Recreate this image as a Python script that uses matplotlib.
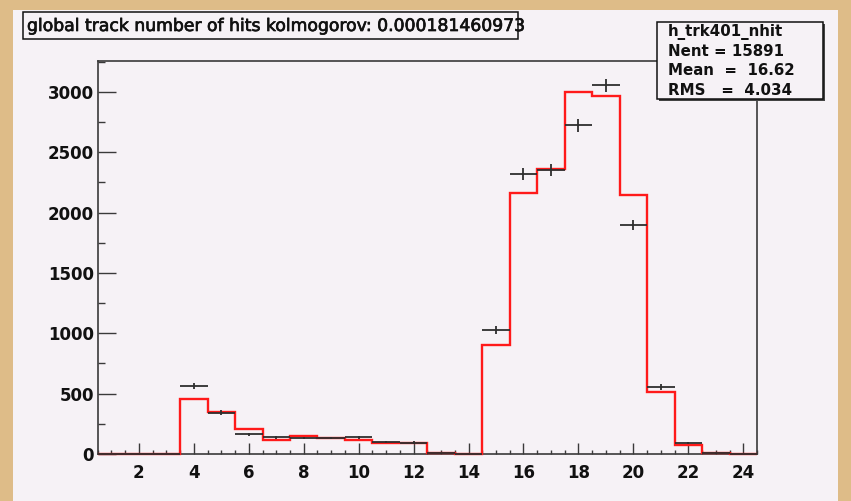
import numpy as np
import matplotlib
matplotlib.use("Agg")
import matplotlib.pyplot as plt
import matplotlib.patheffects as pe
from matplotlib.patches import Rectangle
from matplotlib.ticker import MultipleLocator

# ---- data (bins 1..24, width 1) ----
bin_centers = list(range(1, 25))
reference_counts = [0, 0, 0, 455, 345, 210, 113, 147, 135, 113, 95, 95,
                    12, 0, 905, 2160, 2365, 3000, 2962, 2145, 512, 76, 10, 0]
data_counts = [0, 0, 0, 563, 343, 163, 137, 133, 133, 138, 100, 95,
               5, 0, 1027, 2322, 2355, 2723, 3055, 1897, 558, 93, 5, 0]
x_ticks = [2, 4, 6, 8, 10, 12, 14, 16, 18, 20, 22, 24]
y_ticks = [0, 500, 1000, 1500, 2000, 2500, 3000]
title_text = "global track number of hits kolmogorov: 0.000181460973"
stats_lines = ["h_trk401_nhit", "Nent = 15891", "Mean  =  16.62", "RMS   =  4.034"]

W, H = 851, 501
TAN = "#DEBC88"
PANEL = "#F6F2F6"
FRAME = "#3a3a3a"

fig = plt.figure(figsize=(W / 100, H / 100), dpi=100, facecolor=TAN)

def fx(x):
    return x / W

def fy(y):
    return 1 - y / H

# light panel
fig.patches.append(Rectangle((fx(13), 0), fx(838) - fx(13), fy(10), transform=fig.transFigure,
                             facecolor=PANEL, edgecolor="none", zorder=0))

ax = fig.add_axes([fx(97.7), fy(454), fx(757) - fx(97.7), fy(61) - fy(454)])
ax.set_facecolor(PANEL)
ax.set_zorder(0.5)

edges = np.arange(0.5, 25.0, 1.0)
ax.stairs(reference_counts, edges, color="#ff1a1a", lw=1.7, baseline=0, clip_on=False, zorder=3)
counts = np.array(data_counts, dtype=float)
ax.errorbar(bin_centers, counts, xerr=0.5, yerr=np.sqrt(counts), fmt="none",
            ecolor="#2e2e2e", elinewidth=1.3, capsize=0, zorder=4, clip_on=False)

ax.set_xlim(0.5, 24.5)
ax.set_ylim(0, 3256)
ax.set_xticks(x_ticks)
ax.set_yticks(y_ticks)
ax.xaxis.set_minor_locator(MultipleLocator(0.5))
ax.yaxis.set_minor_locator(MultipleLocator(250))
ax.tick_params(axis="both", which="both", direction="in", color=FRAME, width=1.0,
               top=False, right=False)
ax.tick_params(axis="y", which="major", length=13, pad=2.5)
ax.tick_params(axis="y", which="minor", length=5)
ax.tick_params(axis="x", which="major", length=8, pad=7)
ax.tick_params(axis="x", which="minor", length=3)
for lab in ax.get_xticklabels() + ax.get_yticklabels():
    lab.set_fontfamily("DejaVu Sans")
    lab.set_fontweight("bold")
    lab.set_fontsize(12)
    lab.set_color("#111111")
for s in ax.spines.values():
    s.set_color(FRAME)
    s.set_linewidth(1.2)

# title box
fig.patches.append(Rectangle((fx(23), fy(39)), fx(518) - fx(23), fy(12) - fy(39),
                             transform=fig.transFigure, facecolor=PANEL,
                             edgecolor="#111111", lw=1.1, zorder=1))
fig.text(fx(27), fy(26), title_text, ha="left", va="center", fontsize=12.4,
         family="DejaVu Sans", color="#111111", zorder=3,
         path_effects=[pe.withStroke(linewidth=0.5, foreground="#111111")])

# stats box with shadow
fig.patches.append(Rectangle((fx(659), fy(101)), fx(825) - fx(659), fy(24) - fy(101),
                             transform=fig.transFigure, facecolor="#444444",
                             edgecolor="none", zorder=1))
fig.patches.append(Rectangle((fx(657), fy(99)), fx(823) - fx(657), fy(22) - fy(99),
                             transform=fig.transFigure, facecolor=PANEL,
                             edgecolor="#111111", lw=1.1, zorder=1.1))
for i, line in enumerate(stats_lines):
    fig.text(fx(668), fy(31.5 + i * 19.6), line, ha="left", va="center", fontsize=10.8,
             fontweight="bold", family="DejaVu Sans", color="#111111", zorder=3)

fig.savefig("out.png", dpi=100, facecolor=TAN)
